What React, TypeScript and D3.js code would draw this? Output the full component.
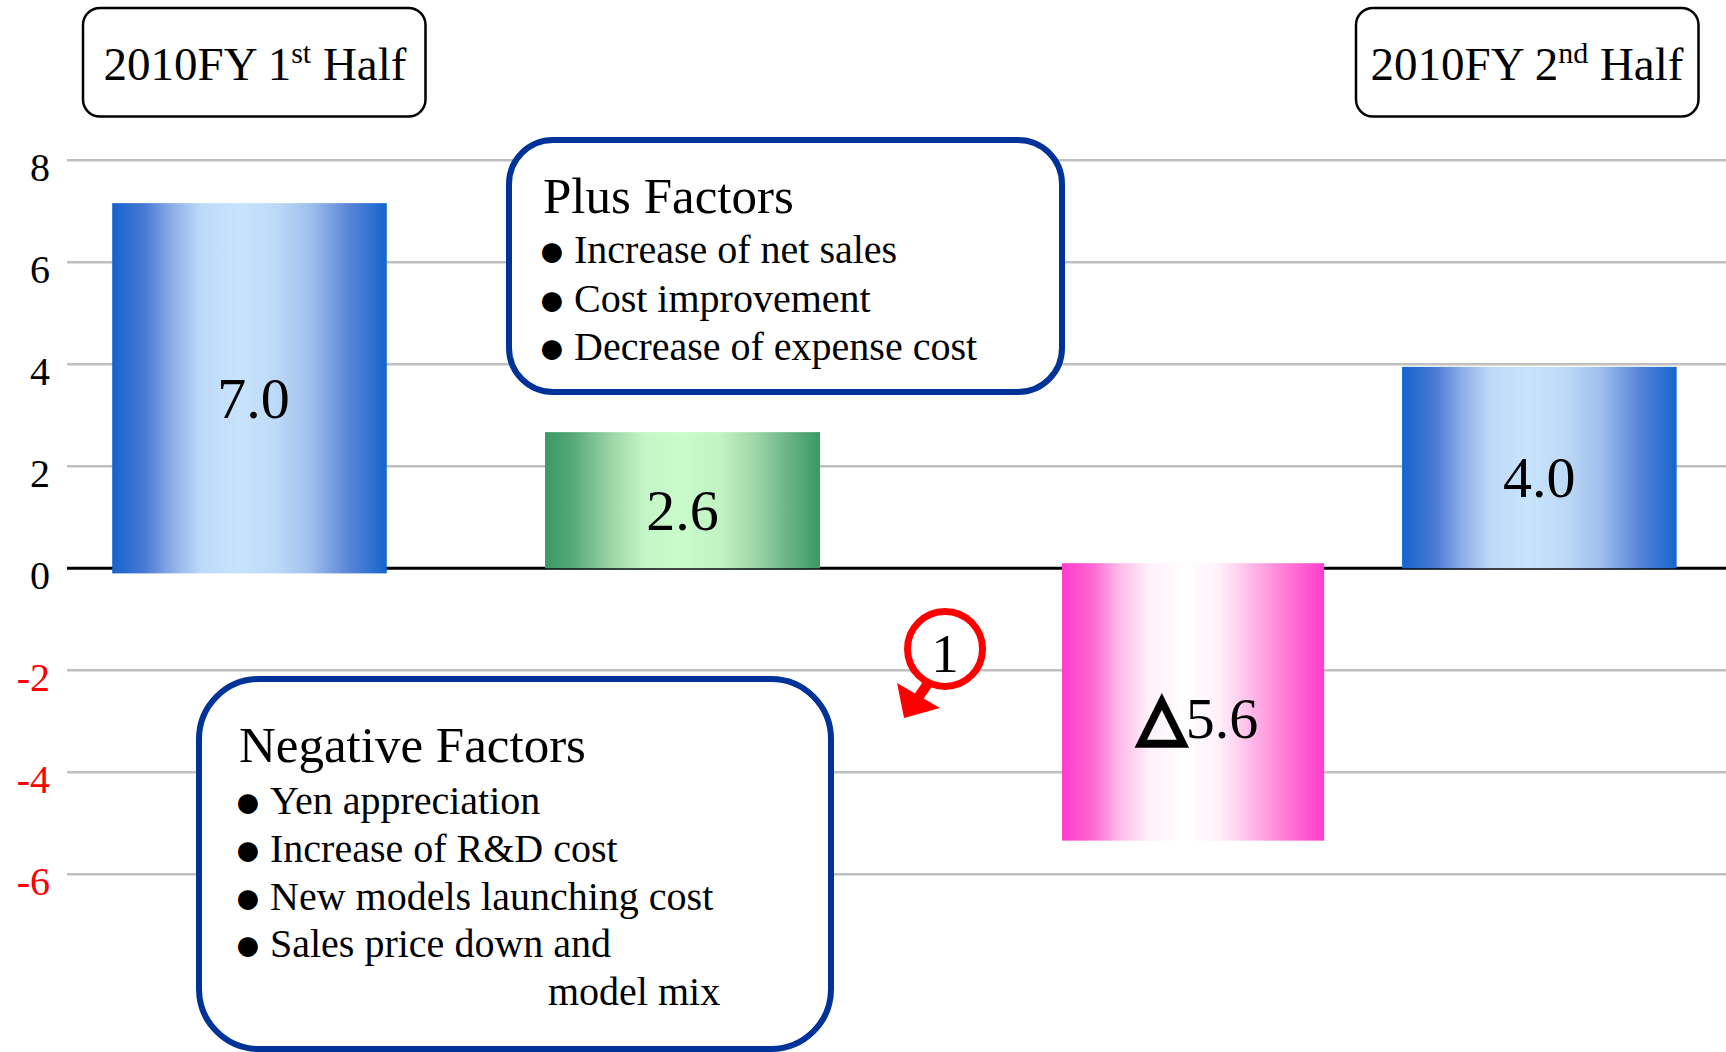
import React from "react";
import * as d3 from "d3";

// ---- data ----
const categories = ["2010FY 1st Half", "Plus Factors", "Negative Factors", "2010FY 2nd Half"];
const barHigh = [7.16, 2.67, 0.1, 3.95];
const barLow = [-0.1, 0, -5.34, 0];
const barLabels = ["7.0", "2.6", "5.6", "4.0"];
const barSign = [1, 1, -1, 1];
const barSlot = [0.44, 1.484, 2.715, 3.55];
const barSpan = [0.662, 0.663, 0.632, 0.662];
const yTicks = [-6, -4, -2, 0, 2, 4, 6, 8];
const plusFactors = ["Increase of net sales", "Cost improvement", "Decrease of expense cost"];
const negativeFactors = ["Yen appreciation", "Increase of R&D cost", "New models launching cost", "Sales price down and"];
const negativeCont = "model mix";

const W = 1726;
const H = 1052;
const SERIF = "'Liberation Serif', 'Times New Roman', serif";

const blueStops: [number, string][] = [
  [0, "#1464cc"], [0.12, "#4a7ad4"], [0.22, "#8eafe8"], [0.32, "#bcd9f8"],
  [0.46, "#c8e4fc"], [0.6, "#bcd9f8"], [0.72, "#a0c0ee"], [0.86, "#5a86d8"], [1, "#1464cc"],
];
const greenStops: [number, string][] = [
  [0, "#3a9966"], [0.1, "#56a878"], [0.25, "#a0d9aa"], [0.36, "#c4f5c6"],
  [0.5, "#cafcca"], [0.64, "#c0f2c2"], [0.76, "#a0d8aa"], [0.88, "#6bb586"], [1, "#3a9966"],
];
const pinkStops: [number, string][] = [
  [0, "#ff3ccc"], [0.12, "#ff6ad3"], [0.22, "#ffbbe9"], [0.33, "#fff0fa"],
  [0.47, "#ffffff"], [0.6, "#fff0fa"], [0.72, "#ffbbe9"], [0.86, "#ff78d6"], [1, "#ff3ccc"],
];

export default function App() {
  const y = d3.scaleLinear().domain([-6, 8]).range([874.3, 160.3]);
  const x = d3.scaleLinear().domain([0, 4]).range([67, W]);

  const gradFor = (i: number) =>
    i === 0 || i === categories.length - 1 ? "url(#gBlue)" : barSign[i] > 0 ? "url(#gGreen)" : "url(#gPink)";

  const grad = (id: string, stops: [number, string][]) => (
    <linearGradient id={id} x1="0" x2="1" y1="0" y2="0">
      {stops.map(([o, c], k) => (
        <stop key={k} offset={o} stopColor={c} />
      ))}
    </linearGradient>
  );

  // annotation anchor (circled 1)
  const cx = x(2.117);
  const cy = y(-1.58);

  const bullet = (bx: number, by: number, text: string, key: string) => (
    <g key={key}>
      <text x={bx - 5} y={by + 3} fontSize={46} fontFamily={SERIF} fill="#000">●</text>
      <text x={bx + 31} y={by} fontSize={40} fontFamily={SERIF} fill="#000">{text}</text>
    </g>
  );

  return (
    <svg
      width={W}
      height={H}
      style={{ position: "absolute", left: 0, top: 0, background: "#fff" }}
      xmlns="http://www.w3.org/2000/svg"
    >
      <defs>
        {grad("gBlue", blueStops)}
        {grad("gGreen", greenStops)}
        {grad("gPink", pinkStops)}
      </defs>
      <rect x={0} y={0} width={W} height={H} fill="#fff" />

      {/* gridlines */}
      {yTicks.filter((t) => t !== 0).map((t) => (
        <line key={t} x1={x(0)} x2={W} y1={y(t)} y2={y(t)} stroke="#c0c0c0" strokeWidth={2.5} />
      ))}
      <line x1={x(0)} x2={W} y1={y(0)} y2={y(0)} stroke="#000" strokeWidth={3} />

      {/* y tick labels */}
      {yTicks.map((t) => (
        <text
          key={t}
          x={50}
          y={y(t) + 21}
          textAnchor="end"
          fontSize={40}
          fontFamily={SERIF}
          fill={t < 0 ? "#ff0000" : "#000"}
        >
          {String(t)}
        </text>
      ))}

      {/* bars */}
      {categories.map((c, i) => {
        const x0 = x(barSlot[i] - barSpan[i] / 2);
        const x1 = x(barSlot[i] + barSpan[i] / 2);
        const yt = y(barHigh[i]);
        const yb = y(barLow[i]);
        return (
          <rect key={c} x={x0} y={yt} width={x1 - x0} height={yb - yt} fill={gradFor(i)} />
        );
      })}

      {/* bar labels */}
      {categories.map((c, i) => {
        const cxb = x(barSlot[i]);
        const mid = (y(barHigh[i]) + y(barLow[i])) / 2;
        const neg = barSign[i] < 0;
        return (
          <text
            key={c + "l"}
            x={cxb + (neg ? 5 : i === 0 ? 4 : 0)}
            y={mid + (neg ? 36 : 29.5)}
            textAnchor="middle"
            fontSize={58}
            fontFamily={SERIF}
            fill="#000"
          >
            {neg && (
              <tspan
                fontFamily="'DejaVu Sans', sans-serif"
                fontSize={62}
                stroke="#000"
                strokeWidth={4.5}
                strokeLinejoin="miter"
              >
                △
              </tspan>
            )}
            <tspan>{barLabels[i]}</tspan>
          </text>
        );
      })}

      {/* header boxes */}
      <rect x={83} y={8} width={342.5} height={108.5} rx={17} fill="#fff" stroke="#000" strokeWidth={2.5} />
      <text x={255} y={80} textAnchor="middle" fontSize={47} fontFamily={SERIF} fill="#000" style={{ whiteSpace: "pre" }}>
        <tspan>2010FY 1</tspan>
        <tspan fontSize={30} dy={-17}>st</tspan>
        <tspan dy={17}> Half</tspan>
      </text>
      <rect x={1356} y={8} width={342.5} height={108.5} rx={17} fill="#fff" stroke="#000" strokeWidth={2.5} />
      <text x={1527} y={80} textAnchor="middle" fontSize={47} fontFamily={SERIF} fill="#000" style={{ whiteSpace: "pre" }}>
        <tspan>2010FY 2</tspan>
        <tspan fontSize={30} dy={-17}>nd</tspan>
        <tspan dy={17}> Half</tspan>
      </text>

      {/* Plus factors box */}
      <rect x={509} y={140} width={553} height={252} rx={44} fill="#fff" stroke="#003399" strokeWidth={6} />
      <text x={543} y={213} fontSize={51} fontFamily={SERIF} fill="#000">Plus Factors</text>
      {plusFactors.map((t, k) => bullet(543, 263.3 + k * 48.35, t, "p" + k))}

      {/* Negative factors box */}
      <rect x={199} y={679} width={632} height={370} rx={60} fill="#fff" stroke="#003399" strokeWidth={6} />
      <text x={239} y={762} fontSize={51} fontFamily={SERIF} fill="#000">Negative Factors</text>
      {negativeFactors.map((t, k) => bullet(239, 814 + k * 47.8, t, "n" + k))}
      <text x={548} y={1005} fontSize={40} fontFamily={SERIF} fill="#000">{negativeCont}</text>

      {/* circled 1 with arrow */}
      <circle cx={cx} cy={cy} r={37.5} fill="#fff" stroke="#ff0000" strokeWidth={7} />
      <text x={cx} y={cy + 23.5} textAnchor="middle" fontSize={55} fontFamily={SERIF} fill="#000">1</text>
      <line x1={cx - 16} x2={cx - 27} y1={cy + 33} y2={cy + 49} stroke="#ff0000" strokeWidth={10} />
      <polygon
        points={`${cx - 48},${cy + 34} ${cx - 5},${cy + 59} ${cx - 41},${cy + 69}`}
        fill="#ff0000"
      />
    </svg>
  );
}
